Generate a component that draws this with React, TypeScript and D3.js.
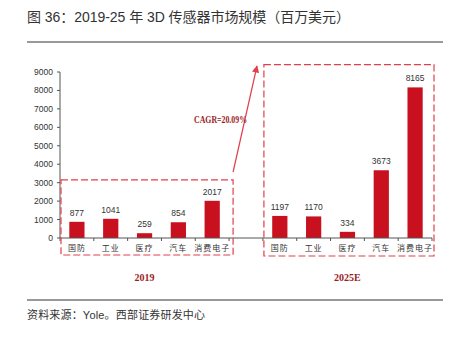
import React from "react";
import * as d3 from "d3";

const categories = ["国防", "工业", "医疗", "汽车", "消费电子"];
const values2019 = [877, 1041, 259, 854, 2017];
const values2025 = [1197, 1170, 334, 3673, 8165];
const yTicks = [0, 1000, 2000, 3000, 4000, 5000, 6000, 7000, 8000, 9000];
const groupLabels = ["2019", "2025E"];
const cagrLabel = "CAGR=20.09%";
const title = "图 36：2019-25 年 3D 传感器市场规模（百万美元）";
const source = "资料来源：Yole。西部证券研发中心";

const W = 462;
const H = 337;
const BAR = "#c8101f";
const DASH = "#e0404c";
const DARKRED = "#9b1c24";
const CJK = "'Liberation Sans', 'Noto Sans CJK SC', sans-serif";
const NUM = "'Liberation Sans', Arial, sans-serif";
const SERIF = "'Liberation Serif', 'DejaVu Serif', serif";

export default function App() {
  const keys = [
    ...categories.map((c) => "2019-" + c),
    "gap",
    ...categories.map((c) => "2025-" + c),
  ];
  const x = d3.scaleBand<string>().domain(keys).range([60, 432]).padding(0);
  const y = d3.scaleLinear().domain([0, 9000]).range([238, 72]);
  const bw = x.bandwidth() * 0.45;

  const bars = [
    ...categories.map((c, i) => ({ key: "2019-" + c, cat: c, v: values2019[i] })),
    ...categories.map((c, i) => ({ key: "2025-" + c, cat: c, v: values2025[i] })),
  ];

  const boundaries = keys.map((k) => x(k)!).concat([x.range()[1]]);

  const leftX0 = x(keys[0])! + 1;
  const leftX1 = x(keys[4])! + x.bandwidth() + 4;
  const rightX0 = x(keys[6])! + 1;
  const rightX1 = x(keys[10])! + x.bandwidth() + 2;
  const leftTop = y(3150);
  const rightTop = y(9400);
  const boxBottom = 255;

  const g2019 = (x(keys[0])! + x(keys[4])! + x.bandwidth()) / 2;
  const g2025 = (x(keys[6])! + x(keys[10])! + x.bandwidth()) / 2;

  return (
    <svg width={W} height={H} style={{ position: "absolute", left: 0, top: 0, background: "#fff" }}>
      <defs>
        <marker id="arr" viewBox="0 0 10 10" refX="9" refY="5" markerWidth="6" markerHeight="6" orient="auto">
          <path d="M0,0 L10,5 L0,10 z" fill={DASH} />
        </marker>
      </defs>
      <text x={27} y={22} fontFamily={CJK} fontSize={14} fill="#333" textLength={323} lengthAdjust="spacing">{title}</text>
      <line x1={27} x2={443} y1={42} y2={42} stroke="#777" strokeWidth={1.5} />

      {/* y axis */}
      <line x1={60} x2={60} y1={y(9000)} y2={y(0)} stroke="#555" strokeWidth={1} />
      {yTicks.map((t) => (
        <g key={t}>
          <line x1={57} x2={60} y1={y(t)} y2={y(t)} stroke="#555" />
          <text x={53} y={y(t)} dy="0.35em" textAnchor="end" fontFamily={NUM} fontSize={8.5} fill="#333">{t}</text>
        </g>
      ))}

      {/* bars */}
      {bars.map((b) => {
        const cx = x(b.key)! + x.bandwidth() / 2;
        return (
          <g key={b.key}>
            <rect x={cx - bw / 2} y={y(b.v)} width={bw} height={y(0) - y(b.v)} fill={BAR} />
            <text x={cx} y={y(b.v) - 6} textAnchor="middle" fontFamily={NUM} fontSize={8.5} fill="#333">{b.v}</text>
            <text x={cx} y={251} textAnchor="middle" fontFamily={CJK} fontSize={8} fill="#333" letterSpacing={1}>{b.cat}</text>
          </g>
        );
      })}

      {/* x axis */}
      <line x1={60} x2={432} y1={y(0)} y2={y(0)} stroke="#555" strokeWidth={1} />
      {boundaries.map((bx, i) => (
        <line key={i} x1={bx} x2={bx} y1={y(0)} y2={y(0) + 3} stroke="#555" />
      ))}

      {/* dashed boxes */}
      <rect x={leftX0} y={leftTop} width={leftX1 - leftX0} height={boxBottom - leftTop} fill="none" stroke={DASH} strokeWidth={1.2} strokeDasharray="7,3" />
      <rect x={rightX0} y={rightTop} width={rightX1 - rightX0} height={boxBottom + 1 - rightTop} fill="none" stroke={DASH} strokeWidth={1.2} strokeDasharray="7,3" />

      {/* arrow */}
      <line x1={leftX1} y1={172} x2={257} y2={66} stroke={DASH} strokeWidth={1.2} markerEnd="url(#arr)" />
      <text x={194} y={123} fontFamily={SERIF} fontWeight="bold" fontSize={10} fill={DARKRED} textLength={53} lengthAdjust="spacingAndGlyphs">{cagrLabel}</text>

      <text x={g2019} y={281} textAnchor="middle" fontFamily={SERIF} fontWeight="bold" fontSize={10} fill={DARKRED}>{groupLabels[0]}</text>
      <text x={g2025} y={281} textAnchor="middle" fontFamily={SERIF} fontWeight="bold" fontSize={10} fill={DARKRED}>{groupLabels[1]}</text>

      <line x1={27} x2={443} y1={300} y2={300} stroke="#777" strokeWidth={1.5} />
      <text x={27} y={319} fontFamily={CJK} fontSize={11} fill="#333" textLength={178} lengthAdjust="spacing">{source}</text>
    </svg>
  );
}
